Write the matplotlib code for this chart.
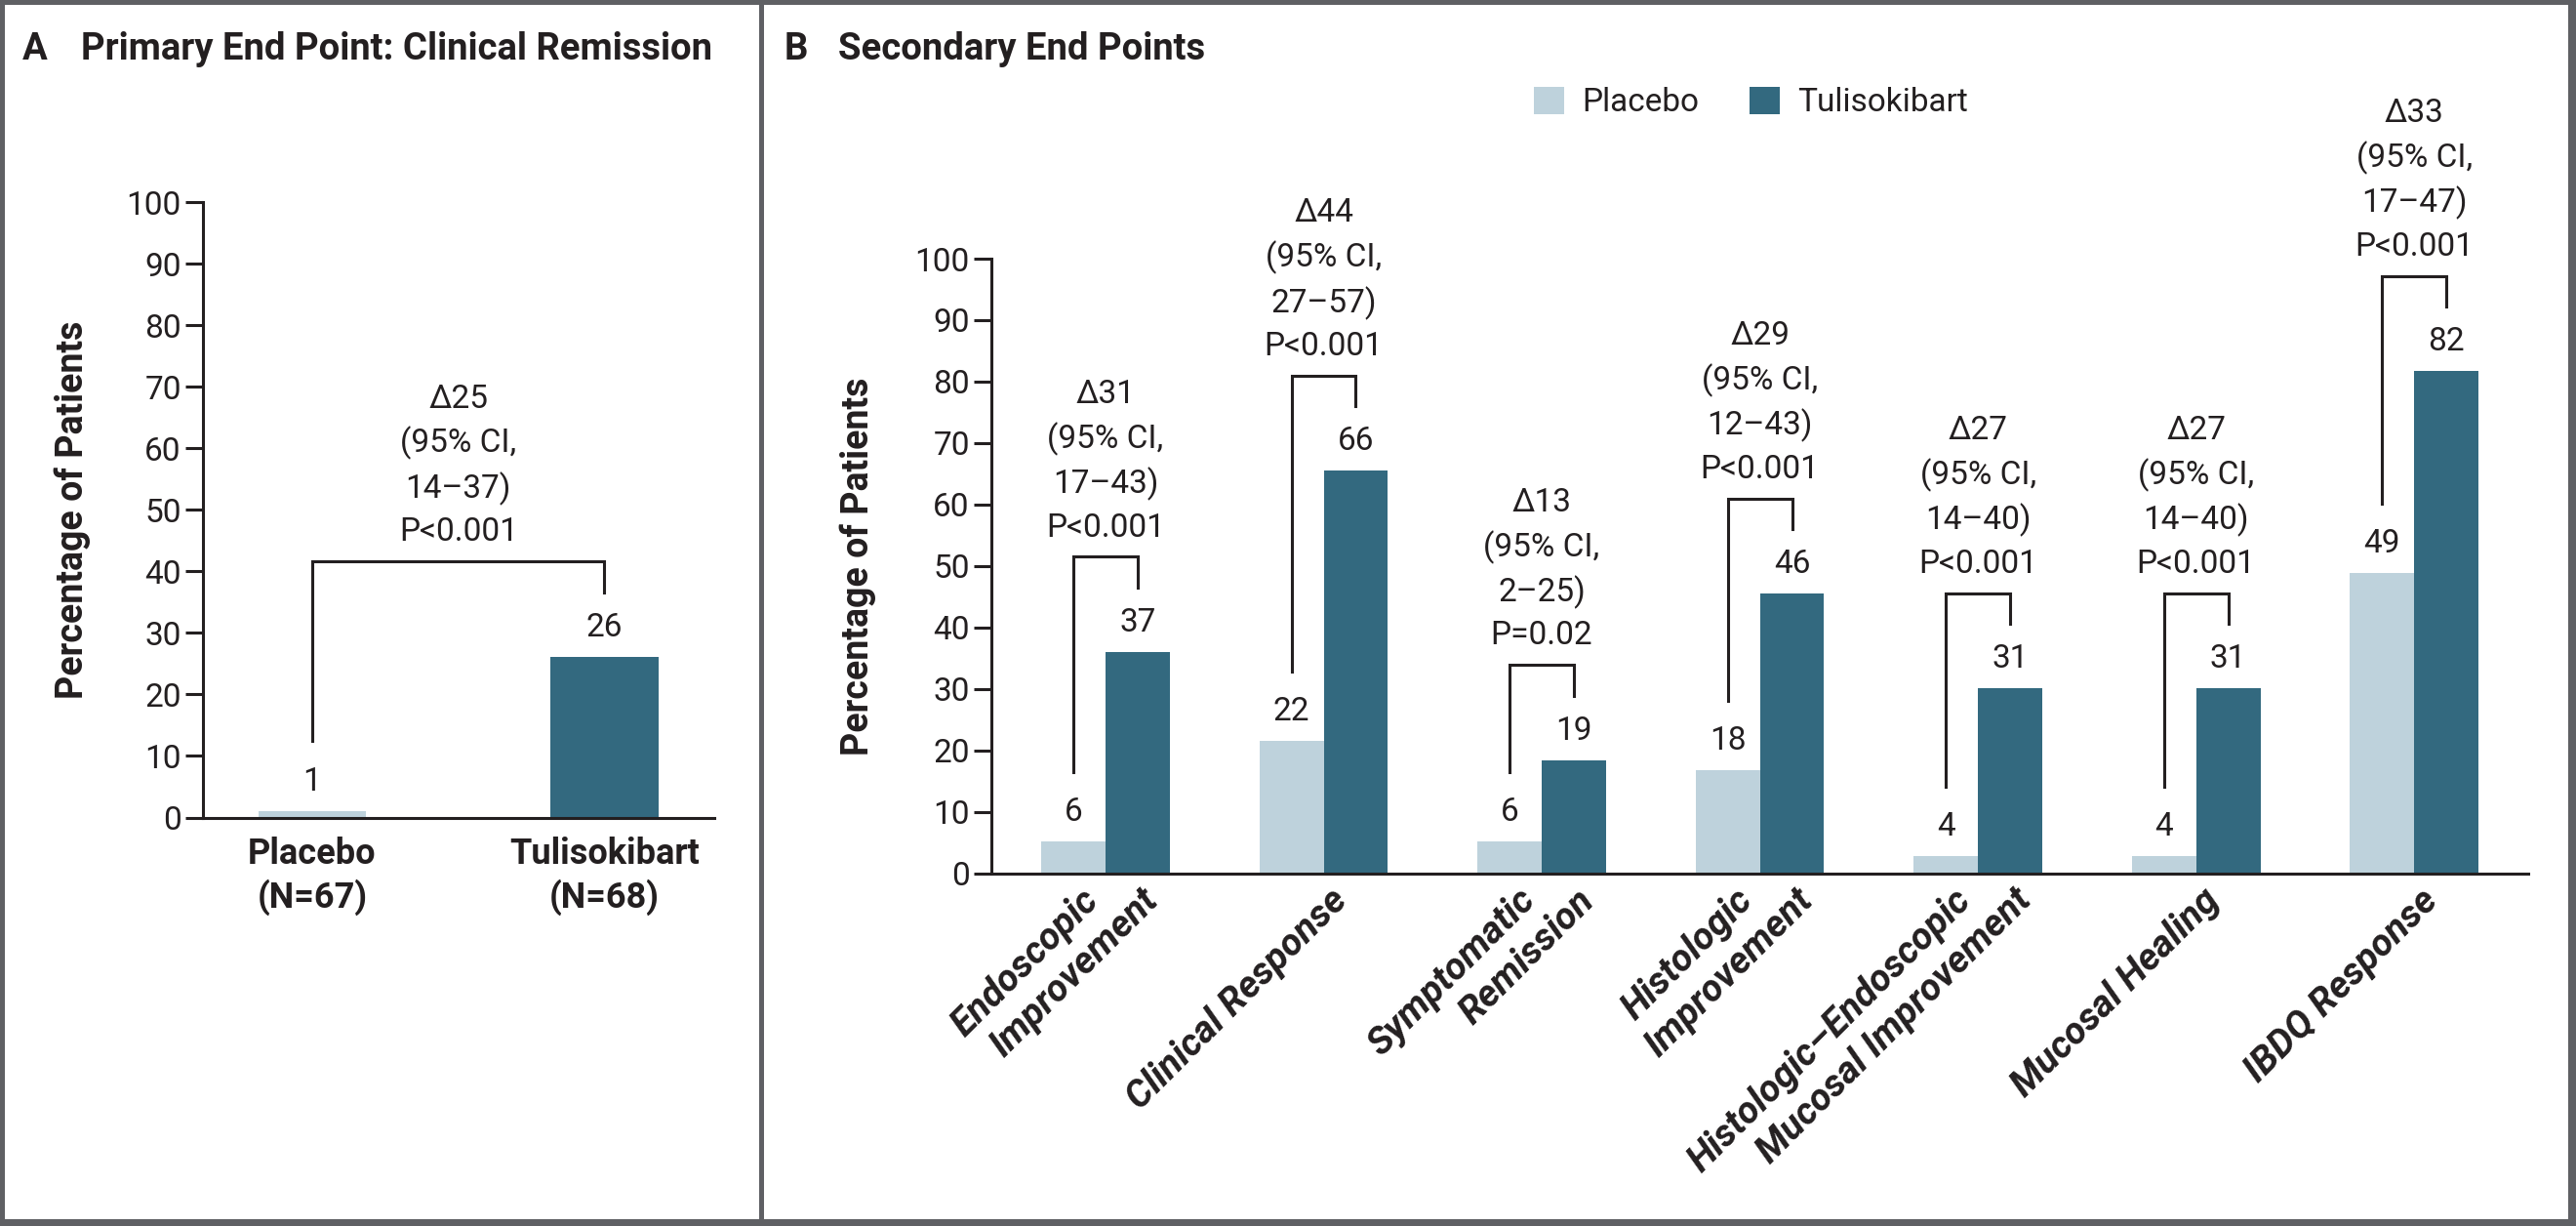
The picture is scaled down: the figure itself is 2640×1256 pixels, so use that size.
import numpy as np
import matplotlib
matplotlib.use("Agg")
from matplotlib import pyplot as plt
from matplotlib.patches import Rectangle, Patch

plt.rcParams['font.family'] = ['Roboto', 'DejaVu Sans']

# ---- data ----
groups_a = ['Placebo\n(N=67)', 'Tulisokibart\n(N=68)']
vals_a = [1.1, 26.1]
labels_a = ['1', '26']
delta_a = '25'
ci_a = '14–37'
p_a = 'P<0.001'

cats_b = ['Endoscopic\nImprovement', 'Clinical Response', 'Symptomatic\nRemission',
          'Histologic\nImprovement', 'Histologic–Endoscopic\nMucosal Improvement',
          'Mucosal Healing', 'IBDQ Response']
placebo_b = [5.2, 21.6, 5.2, 16.8, 2.8, 2.8, 48.9]
tuli_b = [36.0, 65.5, 18.4, 45.5, 30.1, 30.1, 81.7]
placebo_lbl = ['6', '22', '6', '18', '4', '4', '49']
tuli_lbl = ['37', '66', '19', '46', '31', '31', '82']
delta_b = ['31', '44', '13', '29', '27', '27', '33']
ci_b = ['17–43', '27–57', '2–25', '12–43', '14–40', '14–40', '17–47']
p_b = ['P<0.001', 'P<0.001', 'P=0.02', 'P<0.001', 'P<0.001', 'P<0.001', 'P<0.001']

yticks = list(range(0, 101, 10))

C_PLA = '#bed2dc'
C_TUL = '#33697f'
INK = '#231f20'
FRAME = '#5f6064'

W, H = 2640, 1256
fig = plt.figure(figsize=(W / 100, H / 100), dpi=100)
fig.patch.set_facecolor(FRAME)
fig.add_artist(Rectangle((5 / W, 7 / H), (778 - 5) / W, (1251 - 7) / H,
                         transform=fig.transFigure, facecolor='white', edgecolor='none', zorder=-10))
fig.add_artist(Rectangle((783 / W, 7 / H), (2632 - 783) / W, (1251 - 7) / H,
                         transform=fig.transFigure, facecolor='white', edgecolor='none', zorder=-10))


def style_axis(ax):
    for s in ['top', 'right']:
        ax.spines[s].set_visible(False)
    for s in ['left', 'bottom']:
        ax.spines[s].set_linewidth(2.2)
        ax.spines[s].set_color(INK)
    ax.set_ylim(0, 100)
    ax.set_yticks(yticks)
    ax.set_yticklabels([str(t) for t in yticks])
    ax.tick_params(axis='y', length=13, width=2.2, color=INK, labelsize=24, pad=3, labelcolor=INK)
    ax.set_facecolor('none')


def bracket(ax, x0, x1, v0, v1, text):
    top = v1 + 15.5
    ax.plot([x0, x0, x1, x1], [v0 + 11.3, top, top, v1 + 10.5], color=INK, lw=2.2,
            solid_joinstyle='miter', clip_on=False)
    ax.annotate(text, xy=((x0 + x1) / 2, top), xytext=(0, 10), textcoords='offset points',
                ha='center', va='bottom', fontsize=24, color=INK, linespacing=1.45)


def value_label(ax, x, v, s):
    ax.annotate(s, xy=(x, v), xytext=(0, 10), textcoords='offset points',
                ha='center', va='bottom', fontsize=24, color=INK)


# ---- panel A ----
axA = fig.add_axes([208 / W, 418.5 / H, (732 - 208) / W, 630.5 / H])
style_axis(axA)
xa = np.arange(len(groups_a))
axA.bar(xa, vals_a, width=0.37, color=[C_PLA, C_TUL], zorder=2)
axA.set_xlim(-0.374, 1.376)
axA.set_xticks(xa)
axA.set_xticklabels(groups_a, fontsize=26, fontweight='bold', linespacing=1.25, color=INK)
axA.tick_params(axis='x', length=0, pad=14)
for x, v, s in zip(xa, vals_a, labels_a):
    value_label(axA, x, v, s)
bracket(axA, xa[0], xa[1], vals_a[0], vals_a[1],
        f'Δ{delta_a}\n(95% CI,\n{ci_a})\n{p_a}')
axA.set_ylabel('Percentage of Patients', fontsize=27, fontweight='bold', color=INK)
axA.yaxis.set_label_coords(-0.22, 0.5)

# ---- panel B ----
axB = fig.add_axes([1016 / W, 361.2 / H, (2591 - 1016) / W, 629.8 / H])
style_axis(axB)
xb = np.arange(len(cats_b))
bw = 0.295
axB.bar(xb - bw / 2, placebo_b, width=bw, color=C_PLA, zorder=2)
axB.bar(xb + bw / 2, tuli_b, width=bw, color=C_TUL, zorder=2)
axB.set_xlim(-0.5235, 6.523)
axB.set_xticks([])
for i in range(len(cats_b)):
    value_label(axB, xb[i] - bw / 2, placebo_b[i], placebo_lbl[i])
    value_label(axB, xb[i] + bw / 2, tuli_b[i], tuli_lbl[i])
    bracket(axB, xb[i] - bw / 2, xb[i] + bw / 2, placebo_b[i], tuli_b[i],
            f'Δ{delta_b[i]}\n(95% CI,\n{ci_b[i]})\n{p_b[i]}')
    # each line of a category label is set on its own, ends stepped to the right
    lines = cats_b[i].split('\n')
    n = len(lines)
    for j, line in enumerate(lines):
        dx = 13 + (j - (n - 1) / 2) * 44
        axB.annotate(line, xy=(xb[i], 0), xycoords=('data', 'axes fraction'),
                     xytext=(dx, -16), textcoords='offset points',
                     rotation=45, rotation_mode='anchor', ha='right', va='center',
                     fontsize=28, fontweight='bold', fontstyle='italic', color=INK)
axB.set_ylabel('Percentage of Patients', fontsize=27, fontweight='bold', color=INK)
axB.yaxis.set_label_coords(-0.0749, 0.5)

# ---- titles and legend ----
fig.text(23 / W, 1 - 61 / H, 'A', fontsize=27.5, fontweight='bold', color=INK, va='baseline')
fig.text(83 / W, 1 - 61 / H, 'Primary End Point: Clinical Remission', fontsize=27.5,
         fontweight='bold', color=INK, va='baseline')
fig.text(804 / W, 1 - 61 / H, 'B', fontsize=27.5, fontweight='bold', color=INK, va='baseline')
fig.text(859 / W, 1 - 61 / H, 'Secondary End Points', fontsize=27.5,
         fontweight='bold', color=INK, va='baseline')

handles = [Patch(facecolor=C_PLA), Patch(facecolor=C_TUL)]
fig.legend(handles, ['Placebo', 'Tulisokibart'], loc='center left',
           bbox_to_anchor=(1572 / W, 1 - 105 / H), ncol=2, frameon=False,
           borderpad=0, borderaxespad=0, handlelength=0.93, handleheight=0.93,
           handletextpad=0.54, columnspacing=1.56, fontsize=24, labelcolor=INK)

fig.savefig('out.png', dpi=100, facecolor=fig.get_facecolor())
